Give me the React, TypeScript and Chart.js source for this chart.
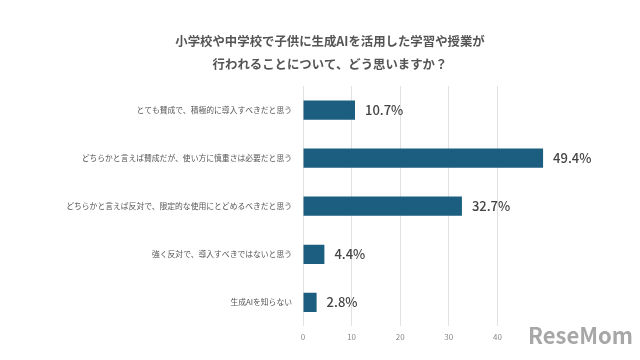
import React, { useEffect, useRef } from "react";
import { Chart, registerables } from "chart.js";

Chart.register(...registerables);

const categories = [
  "とても賛成で、積極的に導入すべきだと思う",
  "どちらかと言えば賛成だが、使い方に慎重さは必要だと思う",
  "どちらかと言えば反対で、限定的な使用にとどめるべきだと思う",
  "強く反対で、導入すべきではないと思う",
  "生成AIを知らない",
];
const values = [10.7, 49.4, 32.7, 4.4, 2.8];
const titleLines = [
  "小学校や中学校で子供に生成AIを活用した学習や授業が",
  "行われることについて、どう思いますか？",
];
const FONT = "'Noto Sans CJK JP', 'Noto Sans', sans-serif";

const labelPlugin = {
  id: "barLabels",
  afterDatasetsDraw(chart: any) {
    const ctx = chart.ctx;
    const meta = chart.getDatasetMeta(0);
    ctx.save();
    ctx.font = `500 13px ${FONT}`;
    ctx.fillStyle = "#444";
    ctx.textBaseline = "middle";
    ctx.textAlign = "left";
    meta.data.forEach((bar: any, i: number) => {
      ctx.fillText(values[i].toFixed(1) + "%", bar.x + 10, bar.y);
    });
    // title
    ctx.font = `bold 12.4px ${FONT}`;
    ctx.fillStyle = "#555";
    ctx.textAlign = "center";
    ctx.fillText(titleLines[0], 330, 41);
    ctx.fillText(titleLines[1], 330, 64.5);
    // watermark
    ctx.font = `bold 22px ${FONT}`;
    ctx.fillStyle = "rgba(130,130,130,0.7)";
    ctx.textAlign = "left";
    ctx.textBaseline = "alphabetic";
    ctx.fillText("ReseMom", 528, 344);
    ctx.restore();
  },
};

export default function App() {
  const ref = useRef<HTMLCanvasElement>(null);
  useEffect(() => {
    document.body.style.margin = "0";
    const chart = new Chart(ref.current!, {
      type: "bar",
      data: {
        labels: categories,
        datasets: [
          {
            data: values,
            backgroundColor: "#1b5e80",
            barPercentage: 0.8,
            categoryPercentage: 0.5,
          },
        ],
      },
      options: {
        indexAxis: "y",
        animation: false,
        responsive: false,
        maintainAspectRatio: false,
        layout: { padding: { left: 0, right: 94, top: 86, bottom: 12 } },
        plugins: {
          legend: { display: false },
          tooltip: { enabled: false },
          title: { display: false },
        },
        scales: {
          x: {
            min: 0,
            max: 50,
            afterBuildTicks(axis: any) {
              axis.ticks = axis.ticks.filter((t: any) => t.value < 50);
            },
            ticks: {
              stepSize: 10,
              color: "#888",
              font: { family: FONT, size: 8 },
              padding: 6,
            },
            grid: { color: "#e2e2e2", drawTicks: false },
            border: { display: false },
          },
          y: {
            afterFit(axis: any) {
              axis.width = 303;
            },
            ticks: {
              color: "#555",
              font: { family: FONT, size: 7.8 },
              padding: 11,
            },
            grid: { display: false, drawTicks: false },
            border: { display: false },
          },
        },
      },
      plugins: [labelPlugin],
    });
    return () => chart.destroy();
  }, []);
  return (
    <div style={{ width: 640, height: 360, background: "#fff" }}>
      <canvas ref={ref} width={640} height={360} />
    </div>
  );
}
